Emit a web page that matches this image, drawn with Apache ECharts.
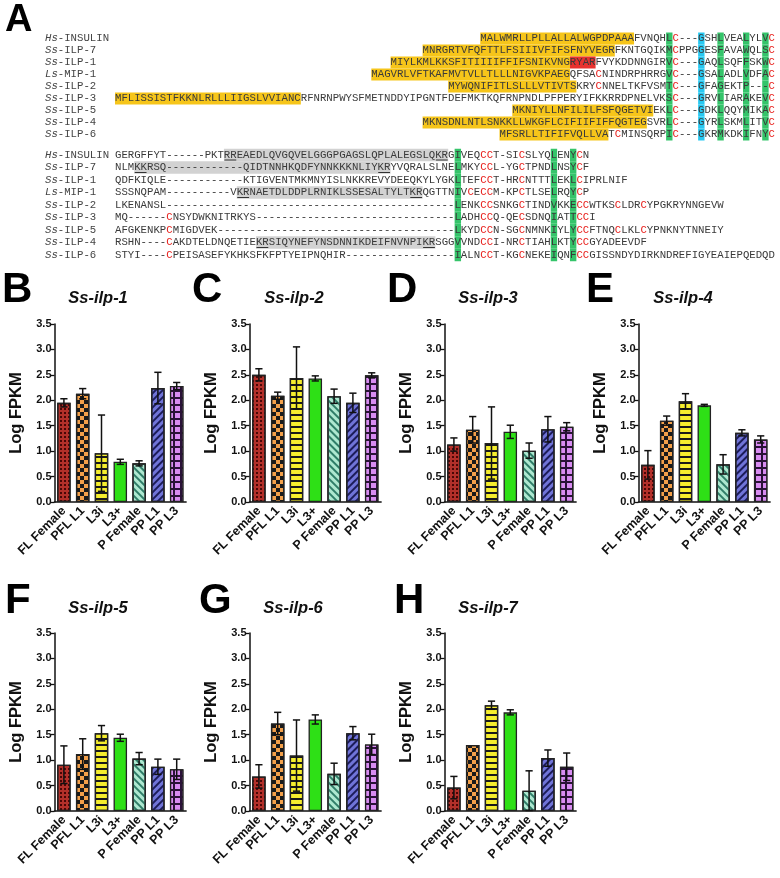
<!DOCTYPE html>
<html><head><meta charset="utf-8">
<script src="https://cdn.jsdelivr.net/npm/echarts@6/dist/echarts.min.js"></script>
<style>html,body{margin:0;padding:0;background:#fff}#c{width:780px;height:878px}</style>
</head><body><div id="c"></div>
<script>
// ---------------- DATA ----------------
const categories = ['FL Female','PFL L1','L3i','L3+','P Female','PP L1','PP L3'];
const geneTitles = ['Ss-ilp-1','Ss-ilp-2','Ss-ilp-3','Ss-ilp-4','Ss-ilp-5','Ss-ilp-6','Ss-ilp-7'];
const panelLetters = ['B','C','D','E','F','G','H'];
const yTickMax = 3.5, yTickStep = 0.5;

const ilp1Mean = [1.95, 2.13, 0.96, 0.79, 0.76, 2.24, 2.28];
const ilp1Err  = [0.08, 0.10, 0.75, 0.05, 0.05, 0.31, 0.07];
const ilp2Mean = [2.50, 2.09, 2.44, 2.43, 2.08, 1.95, 2.49];
const ilp2Err  = [0.12, 0.07, 0.61, 0.05, 0.14, 0.19, 0.05];
const ilp3Mean = [1.13, 1.42, 1.16, 1.38, 1.01, 1.43, 1.48];
const ilp3Err  = [0.13, 0.26, 0.71, 0.13, 0.15, 0.25, 0.08];
const ilp4Mean = [0.73, 1.60, 1.98, 1.90, 0.74, 1.36, 1.23];
const ilp4Err  = [0.28, 0.09, 0.15, 0.02, 0.19, 0.06, 0.07];
const ilp5Mean = [0.91, 1.12, 1.53, 1.44, 1.03, 0.87, 0.82];
const ilp5Err  = [0.37, 0.30, 0.15, 0.07, 0.12, 0.15, 0.20];
const ilp6Mean = [0.68, 1.72, 1.09, 1.80, 0.73, 1.53, 1.31];
const ilp6Err  = [0.23, 0.22, 0.70, 0.09, 0.21, 0.13, 0.20];
const ilp7Mean = [0.46, 1.30, 2.08, 1.94, 0.40, 1.04, 0.87];
const ilp7Err  = [0.22, 0.00, 0.08, 0.05, 0.39, 0.16, 0.27];

// Alignment (panel A)
const seqNames = ['Hs-INSULIN','Ss-ILP-7','Ss-ILP-1','Ls-MIP-1','Ss-ILP-2','Ss-ILP-3','Ss-ILP-5','Ss-ILP-4','Ss-ILP-6'];
const block1Signal = [
  'MALWMRLLPLLALLALWGPDPAAA',
  'MNRGRTVFQFTTLFSIIIVFIFSFNYVEGR',
  'MIYLKMLKKSFITIIIIFFIFSNIKVNG',
  'MAGVRLVFTKAFMVTVLLTLLLNIGVKPAEG',
  'MYWQNIFITLSLLLVTIVTS',
  'MFLISSISTFKKNLRLLLIIGSLVVIANC',
  'MKNIYLLNFILILFSFQGETVI',
  'MKNSDNLNTLSNKKLLWKGFLCIFIIFIFFQGTEG',
  'MFSRLLTIFIFVQLLVA'
];
const block1Rest = [
  'FVNQHLC---GSHLVEALYLVC',
  'FKNTGQIKMCPPGGESFAVAWQLSC',
  'RYARFVYKDDNNGIRVC---GAQLSQFFSKWC',
  'QFSACNINDRPHRRGVC---GSALADLVDFAC',
  'KRYCNNELTKFVSMTC---GFAGEKTP---C',
  'RFNRNPWYSFMETNDDYIPGNTFDEFMKTKQFRNPNDLPFPERYIFKKRRDPNELVKSC---GRVLIARAKEVC',
  'EKLC---GDKLQQYMIKAC',
  'SVRLC---GYRLSKMLITVC',
  'TCMINSQRPIC---GKRMKDKIFNYC'
];
const block1RedBox = [[], [], [[0, 4]], [], [], [], [], [], []]; // [offset in rest, length]
const block1Green = [87, 95, 99, 102];
const block1Cyan = [92];

const block2Seq = [
  'GERGFFYT------PKTRREAEDLQVGQVELGGGPGAGSLQPLALEGSLQKRGIVEQCCT-SICSLYQLENYCN',
  'NLMKKRSQ------------QIDTNNHKQDFYNNKKKNLIYKRYVQRALSLNELMKYCCL-YGCTPNDLNSYCF',
  'QDFKIQLE------------KTIGVENTMKMNYISLNKKREVYDEEQKYLYGKLTEFCCT-HRCNTTTLEKLCIPRLNIF',
  'SSSNQPAM----------VKRNAETDLDDPLRNIKLSSESALTYLTKRQGTTNIVCECCM-KPCTLSELRQYCP',
  'LKENANSL---------------------------------------------LENKCCSNKGCTINDVKKECCWTKSCLDRCYPGKRYNNGEVW',
  'MQ------CNSYDWKNITRKYS-------------------------------LADHCCQ-QECSDNQIATTCCI',
  'AFGKENKPCMIGDVEK-------------------------------------LKYDCCN-SGCNMNKIYLYCCFTNQCLKLCYPNKNYTNNEIY',
  'RSHN----CAKDTELDNQETIEKRSIQYNEFYNSDNNIKDEIFNVNPIKRSGGVVNDCCI-NRCTIAHLKTYCCGYADEEVDF',
  'STYI----CPEISASEFYKHKSFKFPTYEIPNQHIR-----------------IALNCCT-KGCNEKEIQNFCCGISSNDYDIRKNDREFIGYEAIEPQEDQD'
];
const block2Grey = [[18, 52], [4, 43], null, [20, 48], null, null, null, [23, 50], null];
const block2Under = [[[18, 19], [51, 52]], [[4, 5], [42, 43]], [], [[20, 21], [47, 48]], [], [], [], [[23, 24], [49, 50]], []];
const block2Green = [54, 69, 72];

// ---------------- LAYOUT / STYLE ----------------
const FS = 10.68, CW = FS * 0.6, X0 = 115, NAME_X = 45;
const B1_Y0 = 38.5, B1_DY = 12, B2_Y0 = 155, B2_DY = 12.5, COLS1 = 103;
const MONO = '"Liberation Mono", "DejaVu Sans Mono", monospace';
const C_YEL = '#f6c51a', C_GRN = '#35c46a', C_CYN = '#27c8f2', C_RBX = '#e8322f', C_GRY = '#d2d2d2';
const C_TXT = '#3a3a3a', C_RED = '#e8201c';

const graphics = [];

function emitRow(cells, yc, dy) {
  let i = 1;
  const maxc = cells.length - 1;
  while (i <= maxc) {
    const c = cells[i];
    if (!c || !c.bg) { i++; continue; }
    let j = i;
    while (j + 1 <= maxc && cells[j + 1] && cells[j + 1].bg === c.bg) j++;
    graphics.push({type: 'rect', z: 1, shape: {x: X0 + (i - 1) * CW, y: yc - dy / 2, width: (j - i + 1) * CW, height: dy},
      style: {fill: c.bg}, silent: true});
    i = j + 1;
  }
  i = 1;
  while (i <= maxc) {
    const c = cells[i];
    if (!c) { i++; continue; }
    let j = i, s = c.ch;
    while (j + 1 <= maxc && cells[j + 1] && cells[j + 1].fg === c.fg) { j++; s += cells[j].ch; }
    graphics.push({type: 'text', z: 3, x: X0 + (i - 1) * CW, y: yc, silent: true,
      style: {text: s, fontFamily: MONO, fontSize: FS, fill: c.fg, textVerticalAlign: 'middle', textAlign: 'left'}});
    i = j + 1;
  }
}
function emitName(name, yc) {
  graphics.push({type: 'text', z: 3, x: NAME_X, y: yc, silent: true,
    style: {text: name.slice(0, 2), fontFamily: MONO, fontSize: FS, fontStyle: 'italic', fill: '#444', textVerticalAlign: 'middle'}});
  graphics.push({type: 'text', z: 3, x: NAME_X + 2 * CW, y: yc, silent: true,
    style: {text: name.slice(2), fontFamily: MONO, fontSize: FS, fill: '#444', textVerticalAlign: 'middle'}});
}

// Block 1
seqNames.forEach((nm, r) => {
  const yc = B1_Y0 + r * B1_DY;
  emitName(nm, yc);
  const full = block1Signal[r] + block1Rest[r];
  const start = COLS1 - full.length + 1;
  const cells = [];
  for (let k = 0; k < full.length; k++) {
    const col = start + k, ch = full[k];
    let bg = null, fg = C_TXT;
    if (k < block1Signal[r].length) bg = C_YEL;
    else {
      const off = k - block1Signal[r].length;
      block1RedBox[r].forEach(([o, l]) => { if (off >= o && off < o + l) bg = C_RBX; });
      if (block1Green.includes(col)) bg = C_GRN;
      if (block1Cyan.includes(col)) bg = C_CYN;
      if (ch === 'C' && bg !== C_RBX) fg = C_RED;
    }
    cells[col] = {ch, bg, fg};
  }
  emitRow(cells, yc, B1_DY);
});

// Block 2
seqNames.forEach((nm, r) => {
  const yc = B2_Y0 + r * B2_DY;
  emitName(nm, yc);
  const s = block2Seq[r];
  const cells = [];
  for (let k = 0; k < s.length; k++) {
    const col = k + 1, ch = s[k];
    let bg = null, fg = C_TXT;
    const g = block2Grey[r];
    if (g && col >= g[0] && col <= g[1]) bg = C_GRY;
    if (block2Green.includes(col)) bg = C_GRN;
    if (ch === 'C' && bg !== C_GRY) fg = C_RED;
    cells[col] = {ch, bg, fg};
  }
  emitRow(cells, yc, B2_DY);
  block2Under[r].forEach(([a, b]) => {
    graphics.push({type: 'line', z: 4, silent: true,
      shape: {x1: X0 + (a - 1) * CW + 0.5, y1: yc + 5, x2: X0 + b * CW - 0.5, y2: yc + 5},
      style: {stroke: '#333', lineWidth: 1}});
  });
});

graphics.push({type: 'text', z: 5, x: 5, y: 21, style: {text: 'A', fontFamily: 'Liberation Sans, Arial', fontWeight: 'bold', fontSize: 38, fill: '#000', textVerticalAlign: 'middle'}});

// ---------------- BAR PANELS ----------------
const means = [ilp1Mean, ilp2Mean, ilp3Mean, ilp4Mean, ilp5Mean, ilp6Mean, ilp7Mean];
const errs = [ilp1Err, ilp2Err, ilp3Err, ilp4Err, ilp5Err, ilp6Err, ilp7Err];
const panelPos = [
  {left: 54.5, top: 324, lx: 2, ly: 290, tx: 98, ty: 298},
  {left: 249.5, top: 324, lx: 192, ly: 290, tx: 294, ty: 298},
  {left: 444.5, top: 324, lx: 387, ly: 290, tx: 488, ty: 298},
  {left: 638.5, top: 324, lx: 586, ly: 290, tx: 683, ty: 298},
  {left: 54.5, top: 633, lx: 5, ly: 601, tx: 98, ty: 608},
  {left: 249.5, top: 633, lx: 199, ly: 601, tx: 293, ty: 608},
  {left: 444.5, top: 633, lx: 394, ly: 601, tx: 488, ty: 608}
];
const GW = 131.6, GH = 178;
const barStyles = [
  {color: '#b3302a', decal: {symbol: 'rect', dashArrayX: [1.2, 1.3], dashArrayY: [1.2, 1.3], color: 'rgba(55,0,0,0.85)'}},
  {color: '#f3a04a', decal: {symbol: 'rect', dashArrayX: [[3.5, 3.5], [0, 3.5, 3.5, 0]], dashArrayY: [3.5, 0], color: '#1a1a1a'}},
  {color: '#f6ee2e', decal: {symbol: 'rect', dashArrayX: [1, 0], dashArrayY: [1.1, 3.2], color: '#1a1a1a'}},
  {color: '#2ee016'},
  {color: '#aee8d0', decal: {symbol: 'rect', dashArrayX: [1, 0], dashArrayY: [1.1, 2.4], rotation: Math.PI / 4, color: '#2f7d68'}},
  {color: '#7074d8', decal: {symbol: 'rect', dashArrayX: [1, 0], dashArrayY: [1.1, 2.4], rotation: -Math.PI / 4, color: '#1c1c5a'}},
  {color: '#2a1238', decal: {symbol: 'rect', dashArrayX: [4.6, 1.1], dashArrayY: [4.6, 1.1], color: '#d88cf2'}}
];

const grid = [], xAxis = [], yAxis = [], series = [];
const FONT = 'Liberation Sans, Arial, sans-serif';
panelPos.forEach((p, i) => {
  grid.push({left: p.left, top: p.top, width: GW, height: GH, containLabel: false});
  xAxis.push({type: 'category', gridIndex: i, data: categories,
    axisLine: {lineStyle: {color: '#111', width: 1.5}},
    axisTick: {alignWithLabel: true, length: 4, lineStyle: {color: '#111', width: 1.3}},
    axisLabel: {interval: 0, rotate: 45, margin: 7, fontFamily: FONT, fontWeight: 'bold', fontSize: 12.5, color: '#111'}});
  yAxis.push({type: 'value', gridIndex: i, min: 0, max: yTickMax, interval: yTickStep,
    name: 'Log FPKM', nameLocation: 'middle', nameGap: 30,
    nameTextStyle: {fontFamily: FONT, fontWeight: 'bold', fontSize: 16.5, color: '#111'},
    axisLine: {show: true, lineStyle: {color: '#111', width: 1.5}},
    axisTick: {show: true, length: 4, lineStyle: {color: '#111', width: 1.3}},
    splitLine: {show: false},
    axisLabel: {formatter: v => v.toFixed(1), margin: 3, fontFamily: FONT, fontWeight: 'bold', fontSize: 11, color: '#111'}});
  series.push({type: 'bar', xAxisIndex: i, yAxisIndex: i, barWidth: 13.5, z: 2,
    data: means[i].map((v, k) => ({value: v, itemStyle: Object.assign({borderColor: '#222', borderWidth: 1.3}, barStyles[k])}))});
  series.push({type: 'custom', xAxisIndex: i, yAxisIndex: i, z: 5,
    data: means[i].map((v, k) => [k, v, errs[i][k]]),
    renderItem: function (params, api) {
      const x = api.value(0), m = api.value(1), e = api.value(2);
      if (!e) return null;
      const t = api.coord([x, m + e]), b = api.coord([x, m - e]);
      const hw = 3.6, st = {stroke: '#111', lineWidth: 1.5};
      return {type: 'group', children: [
        {type: 'line', shape: {x1: t[0], y1: t[1], x2: b[0], y2: b[1]}, style: st},
        {type: 'line', shape: {x1: t[0] - hw, y1: t[1], x2: t[0] + hw, y2: t[1]}, style: st},
        {type: 'line', shape: {x1: b[0] - hw, y1: b[1], x2: b[0] + hw, y2: b[1]}, style: st}
      ]};
    }});
  graphics.push({type: 'text', z: 5, x: p.lx, y: p.ly, style: {text: panelLetters[i], fontFamily: FONT, fontWeight: 'bold', fontSize: 42, fill: '#000', textVerticalAlign: 'middle'}});
  graphics.push({type: 'text', z: 5, x: p.tx, y: p.ty, style: {text: geneTitles[i], fontFamily: FONT, fontWeight: 'bold', fontStyle: 'italic', fontSize: 16.5, fill: '#111', textAlign: 'center', textVerticalAlign: 'middle'}});
});

const chart = echarts.init(document.getElementById('c'), null, {renderer: 'canvas'});
chart.setOption({animation: false, backgroundColor: '#fff', grid, xAxis, yAxis, series, graphic: graphics});
</script></body></html>
